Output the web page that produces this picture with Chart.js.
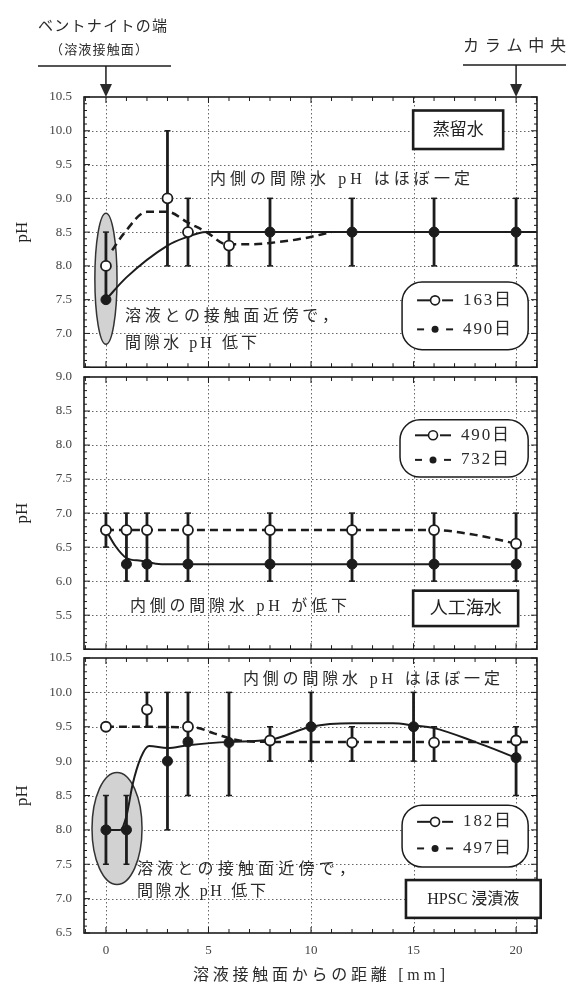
<!DOCTYPE html>
<html>
<head>
<meta charset="utf-8">
<script src="https://cdn.jsdelivr.net/npm/chart.js@4.4.0/dist/chart.umd.min.js"></script>
<style>
  html, body { margin: 0; padding: 0; background: #fff; }
  #wrap { position: relative; width: 570px; height: 988px; }
  .panel { position: absolute; left: 0; width: 570px; }
</style>
</head>
<body>
<div id="wrap">
  <div class="panel" style="top:0;height:374px"><canvas id="c1"></canvas></div>
  <div class="panel" style="top:362px;height:294px"><canvas id="c2"></canvas></div>
  <div class="panel" style="top:642px;height:346px"><canvas id="c3"></canvas></div>
</div>
<script>
// shared axis
const xTicks = [0, 5, 10, 15, 20];
const yTicks1 = [7.0, 7.5, 8.0, 8.5, 9.0, 9.5, 10.0, 10.5];
const yTicks2 = [5.5, 6.0, 6.5, 7.0, 7.5, 8.0, 8.5, 9.0];
const yTicks3 = [6.5, 7.0, 7.5, 8.0, 8.5, 9.0, 9.5, 10.0, 10.5];

// 蒸留水
const dwLabels = ['163日', '490日'];
const dwOpenX = [0, 3, 4, 6];
const dwOpenY = [8.0, 9.0, 8.5, 8.3];
const dwOpenLo = [7.5, 8.0, 8.0, 8.0];
const dwOpenHi = [8.5, 10.0, 9.0, 8.5];
const dwFillX = [0, 8, 12, 16, 20];
const dwFillY = [7.5, 8.5, 8.5, 8.5, 8.5];
const dwFillLo = [null, 8.0, 8.0, 8.0, 8.0];
const dwFillHi = [null, 9.0, 9.0, 9.0, 9.0];
const dwSolidX = [0, 1.0, 3.0, 3.8, 4.9, 8, 12, 16, 20, 21];
const dwSolidY = [7.5, 7.83, 8.3, 8.41, 8.5, 8.5, 8.5, 8.5, 8.5, 8.5];
const dwDashX = [0.3, 0.9, 2.0, 3.0, 4.0, 4.9, 5.9, 7, 8, 9.5, 11];
const dwDashY = [8.23, 8.49, 8.8, 8.8, 8.64, 8.5, 8.32, 8.32, 8.34, 8.4, 8.5];

// 人工海水
const swLabels = ['490日', '732日'];
const swX = [0, 1, 2, 4, 8, 12, 16, 20];
const swFillY = [6.75, 6.25, 6.25, 6.25, 6.25, 6.25, 6.25, 6.25];
const swOpenY = [6.75, 6.75, 6.75, 6.75, 6.75, 6.75, 6.75, 6.55];
const swLo = [6.5, 6.0, 6.0, 6.0, 6.0, 6.0, 6.0, 6.0];
const swHi = [7.0, 7.0, 7.0, 7.0, 7.0, 7.0, 7.0, 7.0];
const swSolidX = [0, 0.45, 1.0, 1.7, 2.7, 20];
const swSolidY = [6.75, 6.52, 6.34, 6.3, 6.25, 6.25];
const swDashX = [0, 16, 18, 20];
const swDashY = [6.75, 6.75, 6.68, 6.55];

// HPSC 浸漬液
const hpLabels = ['182日', '497日'];
const hpOpenX = [0, 2, 4, 8, 12, 16, 20];
const hpOpenY = [9.5, 9.75, 9.5, 9.3, 9.27, 9.27, 9.3];
const hpOpenLo = [null, 9.5, null, 9.0, 9.0, 9.0, null];
const hpOpenHi = [null, 10.0, null, 9.5, 9.5, 9.5, null];
const hpFillX = [0, 1, 3, 4, 6, 10, 15, 20];
const hpFillY = [8.0, 8.0, 9.0, 9.28, 9.27, 9.5, 9.5, 9.05];
const hpFillLo = [7.5, 7.5, 8.0, 8.5, 8.5, 9.0, 9.0, 8.5];
const hpFillHi = [8.5, 8.5, 10.0, 10.0, 10.0, 10.0, 10.0, 9.5];
const hpSolidX = [0, 0.7, 1.0, 1.3, 1.7, 2.1, 3, 4, 6, 8, 10, 12, 14, 15, 16, 18, 20];
const hpSolidY = [8.0, 8.0, 8.2, 8.66, 9.05, 9.22, 9.19, 9.23, 9.28, 9.31, 9.5, 9.55, 9.55, 9.52, 9.48, 9.28, 9.05];
const hpDashX = [0, 4.3, 5.3, 6.5, 8, 20.6];
const hpDashY = [9.5, 9.49, 9.4, 9.3, 9.28, 9.28];

const X_MIN = -1.07, X_MAX = 21.02;
const FONT = "'Liberation Serif', 'Noto Sans CJK JP', serif";
const INK = '#1c1c1c';
Chart.defaults.font.family = FONT;

function pts(xs, ys) { return xs.map((x, i) => ({ x: x, y: ys[i] })); }

function spaced(ctx, text, left, cy, width, font) {
  ctx.font = font;
  const chars = Array.from(text);
  const ws = chars.map(c => ctx.measureText(c).width);
  const total = ws.reduce((a, b) => a + b, 0);
  const gap = chars.length > 1 ? (width - total) / (chars.length - 1) : 0;
  ctx.textAlign = 'left';
  ctx.textBaseline = 'middle';
  let x = left;
  chars.forEach((c, i) => { ctx.fillText(c, x, cy); x += ws[i] + gap; });
}

function seg(ctx, x1, y1, x2, y2) {
  ctx.beginPath(); ctx.moveTo(x1, y1); ctx.lineTo(x2, y2); ctx.stroke();
}

function arrowDown(ctx, x, y1, y2) {
  ctx.lineWidth = 1.5;
  seg(ctx, x, y1, x, y2 - 10);
  ctx.beginPath();
  ctx.moveTo(x - 6, y2 - 13); ctx.lineTo(x + 6, y2 - 13); ctx.lineTo(x, y2); ctx.closePath();
  ctx.fill();
}

function panelPlugin(p) {
  return {
    id: 'panel_' + p.canvas,
    beforeDatasetsDraw(chart) {
      const { ctx, chartArea: a, scales: { x, y } } = chart;
      ctx.save();
      // dotted grid
      ctx.strokeStyle = '#666';
      ctx.lineWidth = 1;
      ctx.setLineDash([1.5, 2.5]);
      xTicks.forEach(v => { const px = Math.round(x.getPixelForValue(v)) + 0.5; seg(ctx, px, a.top, px, a.bottom); });
      p.yTicks.forEach(v => {
        if (v <= p.yMin || v >= p.yMax) return;
        const py = Math.round(y.getPixelForValue(v)) + 0.5;
        seg(ctx, a.left, py, a.right, py);
      });
      ctx.setLineDash([]);
      // shaded ellipse
      if (p.ellipse) {
        const e = p.ellipse;
        const cx = x.getPixelForValue(e.cx), cy = y.getPixelForValue(e.cy);
        const rx = Math.abs(x.getPixelForValue(e.cx + e.rx) - cx);
        const ry = Math.abs(y.getPixelForValue(e.cy + e.ry) - cy);
        ctx.beginPath();
        ctx.ellipse(cx, cy, rx, ry, 0, 0, Math.PI * 2);
        ctx.fillStyle = '#d2d2d2';
        ctx.fill();
        ctx.strokeStyle = '#333';
        ctx.lineWidth = 1.5;
        ctx.stroke();
      }
      // error bars
      ctx.strokeStyle = INK;
      ctx.lineWidth = 2.8;
      p.bars.forEach(b => b.x.forEach((xv, i) => {
        if (b.lo[i] == null) return;
        const px = x.getPixelForValue(xv);
        const lo = y.getPixelForValue(b.lo[i]), hi = y.getPixelForValue(b.hi[i]);
        seg(ctx, px, lo, px, hi);
        ctx.lineWidth = 1.5;
        seg(ctx, px - 3, lo, px + 3, lo);
        seg(ctx, px - 3, hi, px + 3, hi);
        ctx.lineWidth = 2.8;
      }));
      ctx.restore();
    },
    afterDatasetsDraw(chart) {
      const { ctx, chartArea: a, scales: { x, y } } = chart;
      ctx.save();
      ctx.strokeStyle = INK;
      ctx.fillStyle = INK;
      // minor ticks
      ctx.lineWidth = 1;
      for (let v = -1; v <= 21; v++) {
        const px = x.getPixelForValue(v);
        const len = v % 5 === 0 ? 6 : 4;
        seg(ctx, px, a.top, px, a.top + len);
        seg(ctx, px, a.bottom, px, a.bottom - len);
      }
      const n = Math.round((p.yMax - p.yMin) * 10);
      for (let k = 0; k <= n; k++) {
        const py = y.getPixelForValue(p.yMin + k / 10);
        const len = k % 5 === 0 ? 6 : 3;
        seg(ctx, a.left, py, a.left + len, py);
        seg(ctx, a.right, py, a.right - len, py);
      }
      // frame
      ctx.lineWidth = 1.6;
      ctx.strokeRect(a.left, a.top, a.right - a.left, a.bottom - a.top);

      // annotation text
      ctx.fillStyle = '#2a2a2a';
      p.texts.forEach(t => {
        spaced(ctx, t.t, x.getPixelForValue(t.x), y.getPixelForValue(t.y), t.w, t.font);
      });

      // label box
      const b = p.box;
      const bl = x.getPixelForValue(b.l), br = x.getPixelForValue(b.r);
      const bt = y.getPixelForValue(b.top), bb = y.getPixelForValue(b.bot);
      ctx.fillStyle = '#fff';
      ctx.fillRect(bl, bt, br - bl, bb - bt);
      ctx.lineWidth = 2.6;
      ctx.strokeRect(bl, bt, br - bl, bb - bt);
      ctx.fillStyle = '#222';
      ctx.font = b.font;
      ctx.textAlign = 'center';
      ctx.textBaseline = 'middle';
      ctx.fillText(b.t, (bl + br) / 2, (bt + bb) / 2 + 1);

      // legend pill
      const L = p.legend;
      const ll = x.getPixelForValue(L.l), lr = x.getPixelForValue(L.r);
      const lt = y.getPixelForValue(L.top), lb = y.getPixelForValue(L.bot);
      ctx.beginPath();
      ctx.roundRect(ll, lt, lr - ll, lb - lt, 20);
      ctx.fillStyle = '#fff';
      ctx.fill();
      ctx.lineWidth = 1.5;
      ctx.strokeStyle = INK;
      ctx.stroke();
      const h = lb - lt;
      const rows = [lt + h * 0.27, lt + h * 0.7];
      rows.forEach((ry, i) => {
        const sx = ll + 15, ex = ll + 51, mx = (sx + ex) / 2;
        ctx.strokeStyle = INK;
        ctx.lineWidth = 2;
        if (i === 0) {
          seg(ctx, sx, ry, mx, ry);
          seg(ctx, mx + 7, ry, ex, ry);
          ctx.beginPath(); ctx.arc(mx, ry, 4.5, 0, Math.PI * 2);
          ctx.fillStyle = '#fff'; ctx.fill(); ctx.lineWidth = 1.6; ctx.stroke();
        } else {
          seg(ctx, sx, ry, sx + 7, ry);
          seg(ctx, ex - 7, ry, ex, ry);
          ctx.beginPath(); ctx.arc(mx, ry, 3.5, 0, Math.PI * 2);
          ctx.fillStyle = INK; ctx.fill();
        }
        ctx.fillStyle = '#2a2a2a';
        spaced(ctx, L.labels[i], ll + 61, ry, 48, "17px " + FONT);
      });

      // headers above the first panel
      if (p.header) {
        ctx.fillStyle = '#2a2a2a';
        ctx.strokeStyle = INK;
        spaced(ctx, 'ベントナイトの端', 38, 27, 129, "15px " + FONT);
        spaced(ctx, '（溶液接触面）', 50, 51, 98, "13px " + FONT);
        ctx.lineWidth = 1.5;
        seg(ctx, 38, 66, 171, 66);
        arrowDown(ctx, x.getPixelForValue(0), 66, a.top);
        spaced(ctx, 'カラム中央', 463, 47, 103, "16px " + FONT);
        ctx.lineWidth = 1.5;
        seg(ctx, 463, 65, 566, 65);
        arrowDown(ctx, x.getPixelForValue(20), 65, a.top);
      }
      // x axis title under the last panel
      if (p.showX) {
        ctx.fillStyle = '#2a2a2a';
        spaced(ctx, '溶液接触面からの距離 [mm]', 193, a.bottom + 43, 252, "16px " + FONT);
      }
      ctx.restore();
    }
  };
}

function makePanel(p) {
  const datasets = [
    { label: p.labels[0] + ' open', data: pts(p.open.x, p.open.y), showLine: false,
      pointRadius: 5, pointBackgroundColor: '#fff', pointBorderColor: INK, pointBorderWidth: 1.8, order: 0 },
    { label: p.labels[1] + ' filled', data: pts(p.fill.x, p.fill.y), showLine: false,
      pointRadius: 5, pointBackgroundColor: INK, pointBorderColor: INK, pointBorderWidth: 1, order: 1 },
    { label: 'dashed', data: pts(p.dash.x, p.dash.y), borderColor: INK, borderWidth: 2.5,
      borderDash: [8, 5], pointRadius: 0, cubicInterpolationMode: 'monotone', fill: false, order: 2 },
    { label: 'solid', data: pts(p.solid.x, p.solid.y), borderColor: INK, borderWidth: 2,
      pointRadius: 0, cubicInterpolationMode: 'monotone', fill: false, order: 3 }
  ];
  return new Chart(document.getElementById(p.canvas), {
    type: 'line',
    data: { datasets: datasets },
    options: {
      responsive: true,
      maintainAspectRatio: false,
      animation: false,
      layout: { padding: { top: p.padTop, bottom: p.padBottom, left: 0, right: 33 } },
      plugins: { legend: { display: false }, tooltip: { enabled: false } },
      scales: {
        x: {
          type: 'linear', min: X_MIN, max: X_MAX,
          grid: { display: false }, border: { display: false },
          ticks: { display: p.showX, padding: 2, color: '#444', font: { size: 13 } },
          afterBuildTicks: s => { s.ticks = xTicks.map(v => ({ value: v })); },
          afterFit: s => { s.height = p.showX ? 55 : 0; s.paddingLeft = 0; s.paddingRight = 0; }
        },
        y: {
          type: 'linear', min: p.yMin, max: p.yMax,
          grid: { display: false }, border: { display: false },
          ticks: { padding: 4, color: '#444', font: { size: 13 }, callback: v => Number(v).toFixed(1) },
          afterBuildTicks: s => { s.ticks = p.yTicks.map(v => ({ value: v })); },
          title: { display: true, text: 'pH', color: '#222', font: { size: 17 }, padding: { top: 12, bottom: 0 } },
          afterFit: s => { s.width = 84; s.paddingTop = 0; s.paddingBottom = 0; }
        }
      }
    },
    plugins: [panelPlugin(p)]
  });
}

makePanel({
  canvas: 'c1', padTop: 97, padBottom: 3, showX: false, header: true,
  yMin: 6.5, yMax: 10.5, yTicks: yTicks1, labels: dwLabels,
  open: { x: dwOpenX, y: dwOpenY }, fill: { x: dwFillX, y: dwFillY },
  solid: { x: dwSolidX, y: dwSolidY }, dash: { x: dwDashX, y: dwDashY },
  bars: [{ x: dwOpenX, lo: dwOpenLo, hi: dwOpenHi }, { x: dwFillX, lo: dwFillLo, hi: dwFillHi }],
  ellipse: { cx: 0, cy: 7.81, rx: 0.54, ry: 0.97 },
  texts: [
    { t: '内側の間隙水 pH はほぼ一定', x: 5.07, y: 9.27, w: 260, font: "16px " + FONT },
    { t: '溶液との接触面近傍で，', x: 0.93, y: 7.24, w: 213, font: "16px " + FONT },
    { t: '間隙水 pH 低下', x: 0.93, y: 6.85, w: 132, font: "16px " + FONT }
  ],
  box: { t: '蒸留水', l: 14.98, r: 19.37, top: 10.3, bot: 9.73, font: "17px " + FONT },
  legend: { l: 14.44, r: 20.59, top: 7.76, bot: 6.76, labels: dwLabels }
});

makePanel({
  canvas: 'c2', padTop: 15, padBottom: 5, showX: false,
  yMin: 5.0, yMax: 9.0, yTicks: yTicks2, labels: swLabels,
  open: { x: swX, y: swOpenY }, fill: { x: swX, y: swFillY },
  solid: { x: swSolidX, y: swSolidY }, dash: { x: swDashX, y: swDashY },
  bars: [{ x: swX, lo: swLo, hi: swHi }],
  texts: [
    { t: '内側の間隙水 pH が低下', x: 1.17, y: 5.63, w: 217, font: "16px " + FONT }
  ],
  box: { t: '人工海水', l: 14.98, r: 20.1, top: 5.86, bot: 5.34, font: "18px " + FONT },
  legend: { l: 14.34, r: 20.59, top: 8.37, bot: 7.53, labels: swLabels }
});

makePanel({
  canvas: 'c3', padTop: 16, padBottom: 0, showX: true,
  yMin: 6.5, yMax: 10.5, yTicks: yTicks3, labels: hpLabels,
  open: { x: hpOpenX, y: hpOpenY }, fill: { x: hpFillX, y: hpFillY },
  solid: { x: hpSolidX, y: hpSolidY }, dash: { x: hpDashX, y: hpDashY },
  bars: [{ x: hpOpenX, lo: hpOpenLo, hi: hpOpenHi }, { x: hpFillX, lo: hpFillLo, hi: hpFillHi }],
  ellipse: { cx: 0.54, cy: 8.02, rx: 1.22, ry: 0.815 },
  texts: [
    { t: '内側の間隙水 pH はほぼ一定', x: 6.68, y: 10.19, w: 257, font: "16px " + FONT },
    { t: '溶液との接触面近傍で，', x: 1.51, y: 7.42, w: 218, font: "16px " + FONT },
    { t: '間隙水 pH 低下', x: 1.51, y: 7.1, w: 129, font: "16px " + FONT }
  ],
  box: { t: 'HPSC 浸漬液', l: 14.63, r: 21.2, top: 7.27, bot: 6.72, font: "16px " + FONT },
  legend: { l: 14.44, r: 20.59, top: 8.36, bot: 7.46, labels: hpLabels }
});
</script>
</body>
</html>
